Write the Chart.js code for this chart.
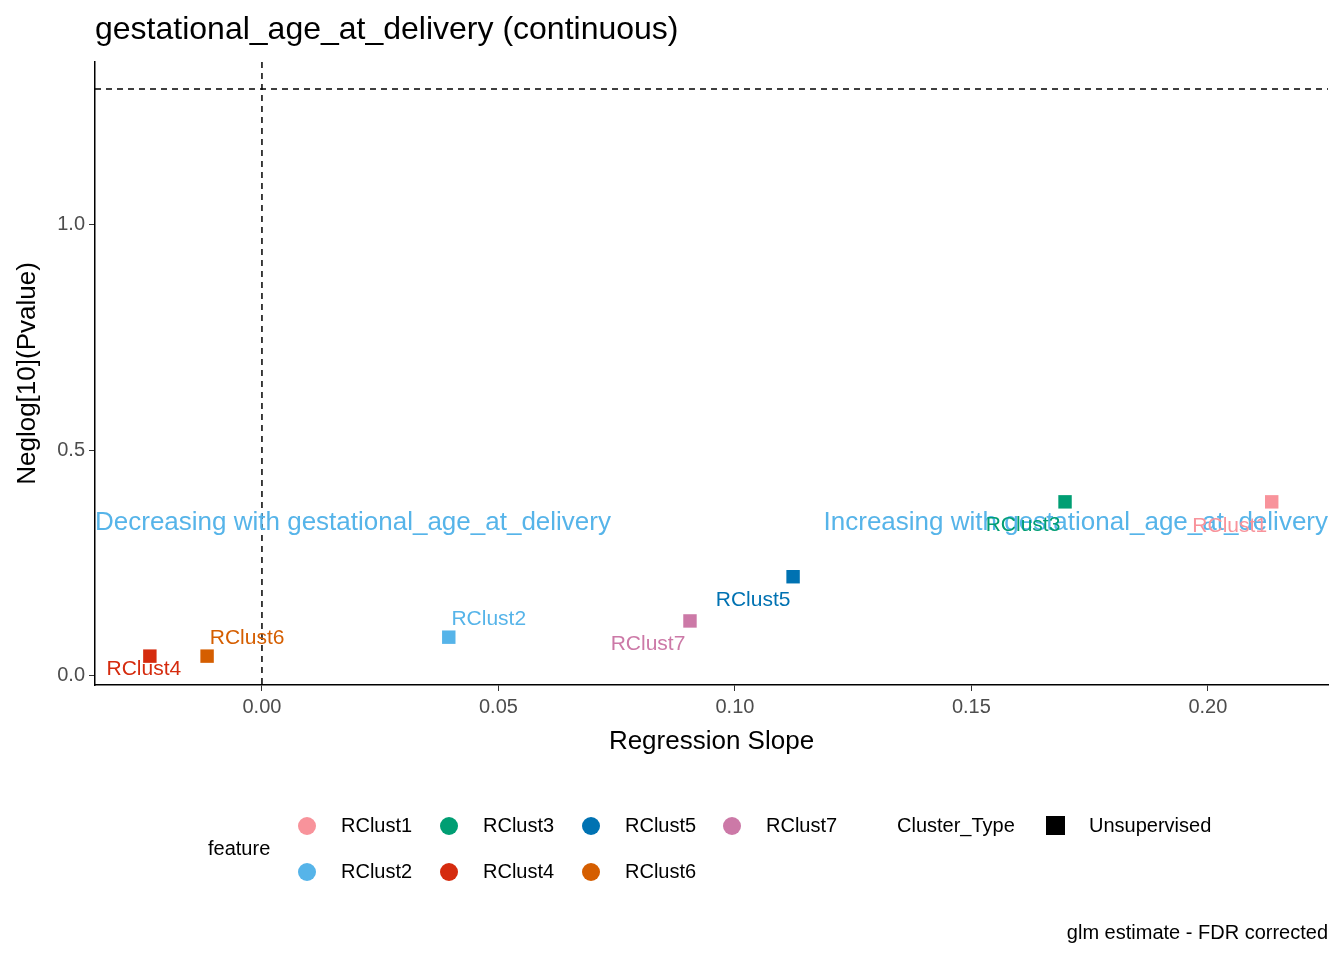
<!DOCTYPE html>
<html><head><meta charset="utf-8">
<script src="https://cdn.jsdelivr.net/npm/chart.js@4/dist/chart.umd.min.js"></script>
<style>html,body{margin:0;padding:0;background:#fff}#wrap{width:1344px;height:960px}</style>
</head><body><div id="wrap"><canvas id="c"></canvas></div>
<script>
const features = ['RClust1','RClust2','RClust3','RClust4','RClust5','RClust6','RClust7'];
const slopes = [0.2135, 0.0395, 0.1698, -0.0237, 0.1123, -0.0116, 0.0905];
const neglogP = [0.386, 0.086, 0.386, 0.044, 0.22, 0.044, 0.122];
const colors = ['#F8939B','#56B4E9','#009E73','#D52B0E','#0072B2','#D55E00','#CC79A7'];
// label offsets in pixels (label centre relative to point)
const labelDx = [-42, 40, -42, -6, -40, 40, -42];
const labelDy = [24, -18, 23, 13, 23, -18, 23];
const cutoff = 1.301;

const F = 'Arial, "Liberation Sans", sans-serif';

const overlay = {
  id: 'overlay',
  afterDraw(chart) {
    const c = chart.ctx, xs = chart.scales.x, ys = chart.scales.y, a = chart.chartArea;
    c.save();
    // reference lines
    c.setLineDash([6, 5]); c.strokeStyle = '#000'; c.lineWidth = 1.5;
    c.beginPath(); c.moveTo(xs.getPixelForValue(0), a.top); c.lineTo(xs.getPixelForValue(0), a.bottom); c.stroke();
    c.beginPath(); c.moveTo(a.left, ys.getPixelForValue(cutoff)); c.lineTo(a.right, ys.getPixelForValue(cutoff)); c.stroke();
    c.setLineDash([]);
    // annotation text
    c.font = '26px ' + F; c.fillStyle = '#56B4E9'; c.textBaseline = 'middle';
    c.textAlign = 'left'; c.fillText('Decreasing with gestational_age_at_delivery', a.left, 523);
    c.textAlign = 'right'; c.fillText('Increasing with gestational_age_at_delivery', a.right, 523);
    // point labels
    c.font = '21px ' + F; c.textAlign = 'center';
    features.forEach((f, i) => {
      c.fillStyle = colors[i];
      c.fillText(f, xs.getPixelForValue(slopes[i]) + labelDx[i], ys.getPixelForValue(neglogP[i]) + labelDy[i]);
    });
    // title and axis titles
    c.fillStyle = '#000'; c.textAlign = 'left'; c.font = '32px ' + F;
    c.fillText('gestational_age_at_delivery (continuous)', 95, 30);
    c.textAlign = 'center'; c.font = '26px ' + F;
    c.fillText('Regression Slope', (a.left + a.right) / 2, 742);
    c.save(); c.translate(28, (a.top + a.bottom) / 2); c.rotate(-Math.PI / 2);
    c.fillText('Neglog[10](Pvalue)', 0, 0); c.restore();
    // legend
    c.font = '20px ' + F; c.textAlign = 'left';
    c.fillText('feature', 208, 849);
    const lx = [307, 449, 591, 732], ly = [826, 872];
    features.forEach((f, i) => {
      const col = i % 2 === 0 ? i / 2 : (i - 1) / 2, row = i % 2;
      const x = lx[col], y = ly[row];
      c.fillStyle = colors[i]; c.beginPath(); c.arc(x, y, 9, 0, Math.PI * 2); c.fill();
      c.fillStyle = '#000'; c.fillText(f, x + 34, y);
    });
    c.fillText('Cluster_Type', 897, 826);
    c.fillRect(1046, 816, 19, 19);
    c.fillText('Unsupervised', 1089, 826);
    c.textAlign = 'right'; c.fillText('glm estimate - FDR corrected', 1328, 933);
    c.restore();
  }
};

new Chart(document.getElementById('c'), {
  type: 'scatter',
  data: {
    datasets: [{
      data: slopes.map((s, i) => ({ x: s, y: neglogP[i] })),
      pointStyle: 'rect', pointRadius: 9.5, pointHoverRadius: 9.5,
      backgroundColor: colors, borderColor: colors, borderWidth: 0
    }]
  },
  options: {
    responsive: true, maintainAspectRatio: false, animation: false,
    layout: { padding: { left: 0, right: 16, top: 62, bottom: 0 } },
    plugins: { legend: { display: false }, tooltip: { enabled: false } },
    scales: {
      x: {
        type: 'linear', min: -0.0353, max: 0.2254,
        afterFit: s => { s.height = 275; },
        afterBuildTicks: s => { s.ticks = [0, 0.05, 0.1, 0.15, 0.2].map(v => ({ value: v })); },
        ticks: { callback: v => v.toFixed(2), color: '#4d4d4d', font: { size: 20, family: F }, padding: 4 },
        grid: { drawOnChartArea: false, drawTicks: true, tickLength: 6, color: '#333' },
        border: { color: '#000', width: 1.5 }
      },
      y: {
        type: 'linear', min: -0.02, max: 1.361,
        afterFit: s => { s.width = 95; },
        afterBuildTicks: s => { s.ticks = [0, 0.5, 1.0].map(v => ({ value: v })); },
        ticks: { callback: v => v.toFixed(1), color: '#4d4d4d', font: { size: 20, family: F }, padding: 4 },
        grid: { drawOnChartArea: false, drawTicks: true, tickLength: 6, color: '#333' },
        border: { color: '#000', width: 1.5 }
      }
    }
  },
  plugins: [overlay]
});
</script></body></html>
